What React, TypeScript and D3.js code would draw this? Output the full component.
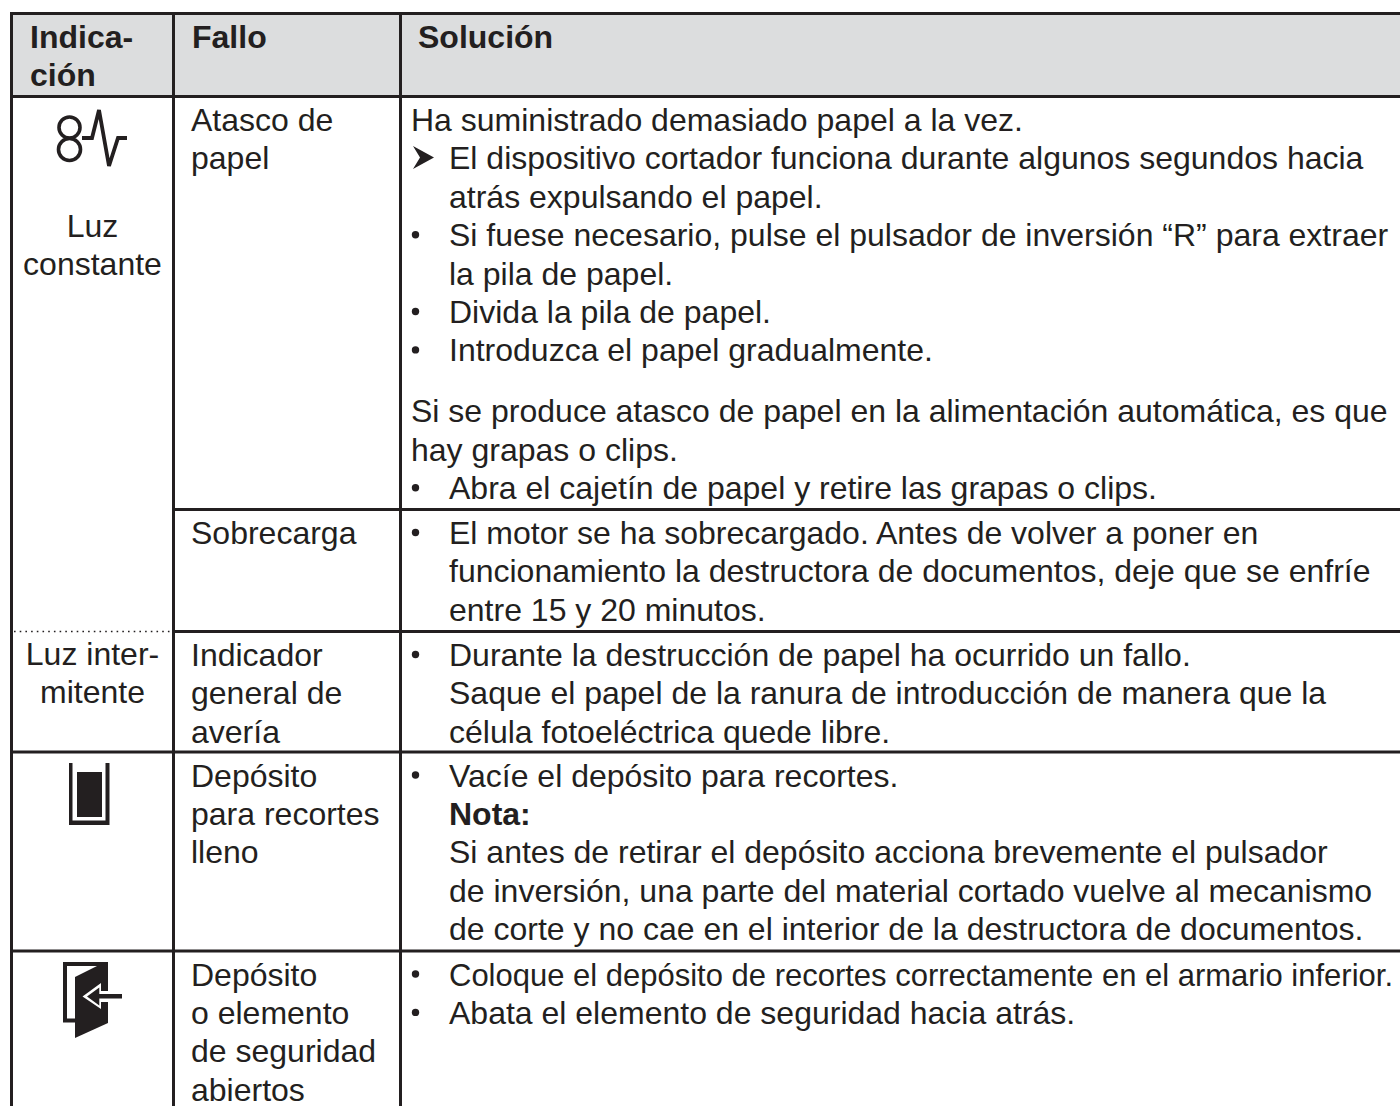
import React from "react";
import * as d3 from "d3";

const W = 1400, H = 1106;
const headers = ["Indica-|ción", "Fallo", "Solución"];
const indicationRow1 = ["Luz", "constante"];
const indicationRow3 = ["Luz inter-", "mitente"];
const faultNames = [
  ["Atasco de", "papel"],
  ["Sobrecarga"],
  ["Indicador", "general de", "avería"],
  ["Depósito", "para recortes", "lleno"],
  ["Depósito", "o elemento", "de seguridad", "abiertos"],
];
type L = [string, string];
const solution1: L[] = [
  ["plain", "Ha suministrado demasiado papel a la vez."],
  ["arrow", "El dispositivo cortador funciona durante algunos segundos hacia"],
  ["cont", "atrás expulsando el papel."],
  ["bullet", "Si fuese necesario, pulse el pulsador de inversión “R” para extraer"],
  ["cont", "la pila de papel."],
  ["bullet", "Divida la pila de papel."],
  ["bullet", "Introduzca el papel gradualmente."],
  ["gap", ""],
  ["plain", "Si se produce atasco de papel en la alimentación automática, es que"],
  ["plain", "hay grapas o clips."],
  ["bullet", "Abra el cajetín de papel y retire las grapas o clips."],
];
const solution2: L[] = [
  ["bullet", "El motor se ha sobrecargado. Antes de volver a poner en"],
  ["cont", "funcionamiento la destructora de documentos, deje que se enfríe"],
  ["cont", "entre 15 y 20 minutos."],
];
const solution3: L[] = [
  ["bullet", "Durante la destrucción de papel ha ocurrido un fallo."],
  ["cont", "Saque el papel de la ranura de introducción de manera que la"],
  ["cont", "célula fotoeléctrica quede libre."],
];
const solution4: L[] = [
  ["bullet", "Vacíe el depósito para recortes."],
  ["bold", "Nota:"],
  ["cont", "Si antes de retirar el depósito acciona brevemente el pulsador"],
  ["cont", "de inversión, una parte del material cortado vuelve al mecanismo"],
  ["cont", "de corte y no cae en el interior de la destructora de documentos."],
];
const solution5: L[] = [
  ["bullet", "Coloque el depósito de recortes correctamente en el armario inferior."],
  ["bullet", "Abata el elemento de seguridad hacia atrás."],
];
const solutions = [solution1, solution2, solution3, solution4, solution5];

const INK = "#231f20";
const HEAD = "#dcddde";
const FS = 32;
const STEP = 38.4;
const rowTops = [96.5, 509.5, 631.5, 752, 951];
const colX = [11.5, 173.5, 400.5];
const firstBaseline = (top: number) => top + 34.5;
const lineY = d3.scaleLinear().domain([0, 1]).range([0, STEP]);
const condensedLine = solution5[0][1];
const condensedWidth = 944;

const line = d3.line();

function Txt({ x, y, children, bold, anchor, fit }: any) {
  return (
    <text
      x={x}
      y={y}
      fontSize={FS}
      fontWeight={bold ? 700 : 400}
      textAnchor={anchor}
      fill={INK}
      textLength={fit}
      lengthAdjust={fit ? "spacingAndGlyphs" : undefined}
    >
      {children}
    </text>
  );
}

function Solution({ lines, top }: { lines: L[]; top: number }) {
  let pos = 0;
  const base = firstBaseline(top);
  return (
    <g>
      {lines.map((l, i) => {
        const [kind, text] = l;
        if (kind === "gap") {
          pos += 0.59;
          return null;
        }
        const y = base + lineY(pos);
        pos += 1;
        if (kind === "plain") return <Txt key={i} x={411} y={y}>{text}</Txt>;
        if (kind === "bold") return <Txt key={i} x={449} y={y} bold>{text}</Txt>;
        return (
          <g key={i}>
            {kind === "bullet" && <circle cx={415.5} cy={y - 11.5} r={3.7} fill={INK} />}
            {kind === "arrow" && (
              <path
                d={`M413 ${y - 23.5}L434 ${y - 12}L413 ${y - 0.5}L420 ${y - 12}Z`}
                fill={INK}
              />
            )}
            <Txt x={449} y={y} fit={text === condensedLine ? condensedWidth : undefined}>{text}</Txt>
          </g>
        );
      })}
    </g>
  );
}

function Icons() {
  return (
    <g>
      <circle cx={69.5} cy={127.5} r={10.5} fill="none" stroke={INK} strokeWidth={3.6} />
      <circle cx={69.5} cy={149.5} r={11} fill="none" stroke={INK} strokeWidth={3.6} />
      <path
        d={line([[82, 138], [92, 138], [99, 110], [109, 166], [118, 138], [127, 138]]) as string}
        fill="none"
        stroke={INK}
        strokeWidth={3.8}
      />
      <path d="M69 763H72.500V820.500H105.500V763H109.500V825H69Z" fill={INK} />
      <rect x={77} y={772} width={25} height={45} fill={INK} />
      <path d="M63 962H108V1000H75V1022.500H63Z" fill={INK} />
      <path d="M67 966H97L75 977V1018.500H67Z" fill="#fff" />
      <path d="M75 978L108 962V1023L75 1038Z" fill={INK} />
      <path d="M82.500 996.500L101 983V991H108V1002H101V1009Z" fill="#fff" />
      <path d="M87 996.500L99.300 987.500V994H122V998.500H99.300V1005.500Z" fill={INK} />
    </g>
  );
}

export default function App() {
  const fullFromCol1 = [rowTops[1], rowTops[2]];
  const fullFromCol0 = [rowTops[0], rowTops[3], rowTops[4]];
  return (
    <svg
      width={W}
      height={H}
      viewBox={`0 0 ${W} ${H}`}
      style={{ position: "absolute", left: 0, top: 0, background: "#fff" }}
      fontFamily="'Liberation Sans', Arial, sans-serif"
    >
      <rect x={colX[0]} y={13.5} width={W} height={rowTops[0] - 13.5} fill={HEAD} />
      {headers.map((h, i) =>
        h.split("|").map((t, j) => (
          <Txt key={`${i}-${j}`} x={[30, 192, 418][i]} y={48 + lineY(j)} bold>{t}</Txt>
        ))
      )}

      {[indicationRow1, indicationRow3].map((ls, i) =>
        ls.map((t, j) => (
          <Txt key={`${i}-${j}`} x={92.5} y={[237, 665][i] + lineY(j)} anchor="middle">{t}</Txt>
        ))
      )}

      {faultNames.map((ls, i) =>
        ls.map((t, j) => (
          <Txt key={`${i}-${j}`} x={191} y={firstBaseline(rowTops[i]) + lineY(j)}>{t}</Txt>
        ))
      )}

      {solutions.map((s, i) => <Solution key={i} lines={s} top={rowTops[i]} />)}

      <Icons />

      <g stroke={INK} strokeWidth={3} fill="none">
        <line x1={colX[0] - 1.5} x2={W} y1={13.5} y2={13.5} />
        {colX.map((x) => <line key={x} x1={x} x2={x} y1={12} y2={H} />)}
        {fullFromCol1.map((y) => <line key={y} x1={colX[1]} x2={W} y1={y} y2={y} />)}
        {fullFromCol0.map((y) => <line key={y} x1={colX[0]} x2={W} y1={y} y2={y} />)}
      </g>
      <line
        x1={14}
        x2={172}
        y1={rowTops[2]}
        y2={rowTops[2]}
        stroke={INK}
        strokeWidth={1.6}
        strokeDasharray="1.6 4.1"
      />
    </svg>
  );
}
